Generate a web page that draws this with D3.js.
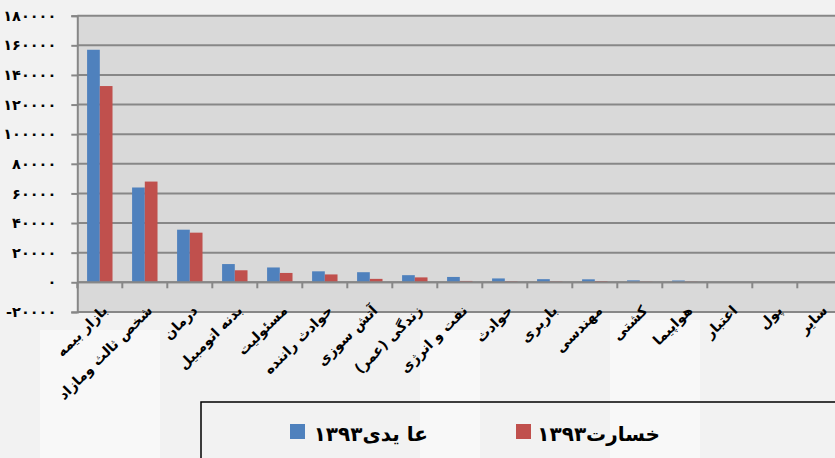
<!DOCTYPE html>
<html>
<head>
<meta charset="utf-8">
<script src="https://cdn.jsdelivr.net/npm/d3@7/dist/d3.min.js"></script>
<style>
  html, body { margin: 0; padding: 0; background: #f2f2f2; }
  svg { display: block; }
</style>
</head>
<body>
<svg id="chart" width="835" height="458"></svg>
<script>
const categories = ["بازار بیمه", "شخص ثالث ومازاد", "درمان", "بدنه اتومبیل", "مسئولیت", "حوادث راننده", "آتش سوزی", "زندگی (عمر)", "نفت و انرژی", "حوادث", "باربری", "مهندسی", "کشتی", "هواپیما", "اعتبار", "پول", "سایر"];
const premium1393 = [157000, 64000, 35500, 12300, 10000, 7400, 6800, 4800, 3600, 2600, 2100, 2000, 1300, 1200, 100, 50, 0];
const loss1393 = [132500, 68000, 33500, 8100, 6300, 5300, 2300, 3300, 900, 600, 500, 800, 400, 400, 50, 0, 0];
const seriesNames = ["عا یدی۱۳۹۳", "خسارت۱۳۹۳"];
const seriesColors = ["#4f81bd", "#c0504d"];
const yTicks = [-20000, 0, 20000, 40000, 60000, 80000, 100000, 120000, 140000, 160000, 180000];

const svg = d3.select("#chart");
const W = 835, H = 458;
const plot = { left: 77.3, right: 842.3, top: 15.7, bottom: 311.9 };

svg.append("rect").attr("width", W).attr("height", H).attr("fill", "#f2f2f2");
const patches = [[40, 330, 120, 128], [610, 320, 90, 138], [420, 330, 60, 128]];
svg.selectAll("rect.patch").data(patches).enter().append("rect")
  .attr("x", d => d[0]).attr("y", d => d[1]).attr("width", d => d[2]).attr("height", d => d[3])
  .attr("fill", "#ffffff").attr("opacity", 0.45);

const x = d3.scaleBand().domain(categories).range([plot.left, plot.right]).paddingInner(0).paddingOuter(0);
const x1 = d3.scaleBand().domain(seriesNames).range([0, x.bandwidth()]).paddingInner(0).paddingOuter(0.77);
const y = d3.scaleLinear().domain([-20000, 180000]).range([plot.bottom, plot.top]);

svg.append("rect").attr("x", plot.left).attr("y", plot.top)
  .attr("width", plot.right - plot.left).attr("height", plot.bottom - plot.top)
  .attr("fill", "#d9d9d9");

svg.append("g").selectAll("line").data(yTicks).enter().append("line")
  .attr("x1", plot.left).attr("x2", plot.right)
  .attr("y1", d => y(d)).attr("y2", d => y(d))
  .attr("stroke", "#878787").attr("stroke-width", 2);

const toFa = s => String(s).replace(/[0-9]/g, c => "۰۱۲۳۴۵۶۷۸۹"[+c]);
const yAxis = svg.append("g").attr("transform", `translate(${plot.left},0)`)
  .call(d3.axisLeft(y).tickValues(yTicks).tickSize(6).tickPadding(15).tickFormat(d => toFa(d)));
yAxis.select(".domain").attr("stroke", "#878787").attr("stroke-width", 2);
yAxis.selectAll(".tick line").attr("stroke", "#878787").attr("stroke-width", 2);
yAxis.selectAll(".tick text").attr("fill", "#000").attr("font-family", "DejaVu Sans, sans-serif")
  .attr("font-weight", "bold").attr("font-size", 14.5).attr("letter-spacing", "-0.9px");

const rows = categories.map((c, i) => ({ c, v: [premium1393[i], loss1393[i]] }));
const groups = svg.append("g").selectAll("g").data(rows).enter().append("g")
  .attr("transform", d => `translate(${x(d.c)},0)`);
groups.selectAll("rect").data(d => d.v.map((v, j) => ({ v, s: seriesNames[j], j }))).enter().append("rect")
  .attr("x", d => x1(d.s)).attr("width", x1.bandwidth())
  .attr("y", d => y(Math.max(0, d.v))).attr("height", d => Math.abs(y(d.v) - y(0)))
  .attr("fill", d => seriesColors[d.j]);

const y0 = y(0);
svg.append("line").attr("x1", plot.left).attr("x2", plot.right).attr("y1", y0).attr("y2", y0)
  .attr("stroke", "#878787").attr("stroke-width", 2);
const bounds = categories.map(c => x(c)).concat([plot.right]);
svg.append("g").selectAll("line").data(bounds).enter().append("line")
  .attr("x1", d => d).attr("x2", d => d).attr("y1", y0).attr("y2", y0 + 6)
  .attr("stroke", "#878787").attr("stroke-width", 2);

// category labels (low position, rotated -45, right end anchored near category centre)
const lab = svg.append("g").selectAll("g").data(categories).enter().append("g")
  .attr("transform", d => `translate(${x(d) + x.bandwidth() / 2 + 5},${plot.bottom - 4}) rotate(-45)`);
lab.append("text")
  .attr("text-anchor", "start").attr("dy", "0.35em")
  .attr("font-family", "DejaVu Sans, sans-serif").attr("font-weight", "bold").attr("font-size", 14)
  .attr("fill", "#000").text(d => d)
  .attr("x", function () { return -this.getComputedTextLength(); });

svg.append("rect").attr("x", 201).attr("y", 402).attr("width", 700).attr("height", 100)
  .attr("fill", "none").attr("stroke", "#000").attr("stroke-width", 1.5);
const legendItems = [{ sx: 290, tx: 428 }, { sx: 516, tx: 660 }];
const lg = svg.append("g").selectAll("g").data(seriesNames).enter().append("g");
lg.append("rect").attr("x", (d, i) => legendItems[i].sx).attr("y", 424).attr("width", 15).attr("height", 15)
  .attr("fill", (d, i) => seriesColors[i]);
lg.append("text").attr("x", (d, i) => legendItems[i].tx).attr("y", 441)
  .attr("text-anchor", "end").attr("font-family", "DejaVu Sans, sans-serif").attr("font-weight", "bold")
  .attr("font-size", 20).attr("fill", "#000").text(d => d);
</script>
</body>
</html>
